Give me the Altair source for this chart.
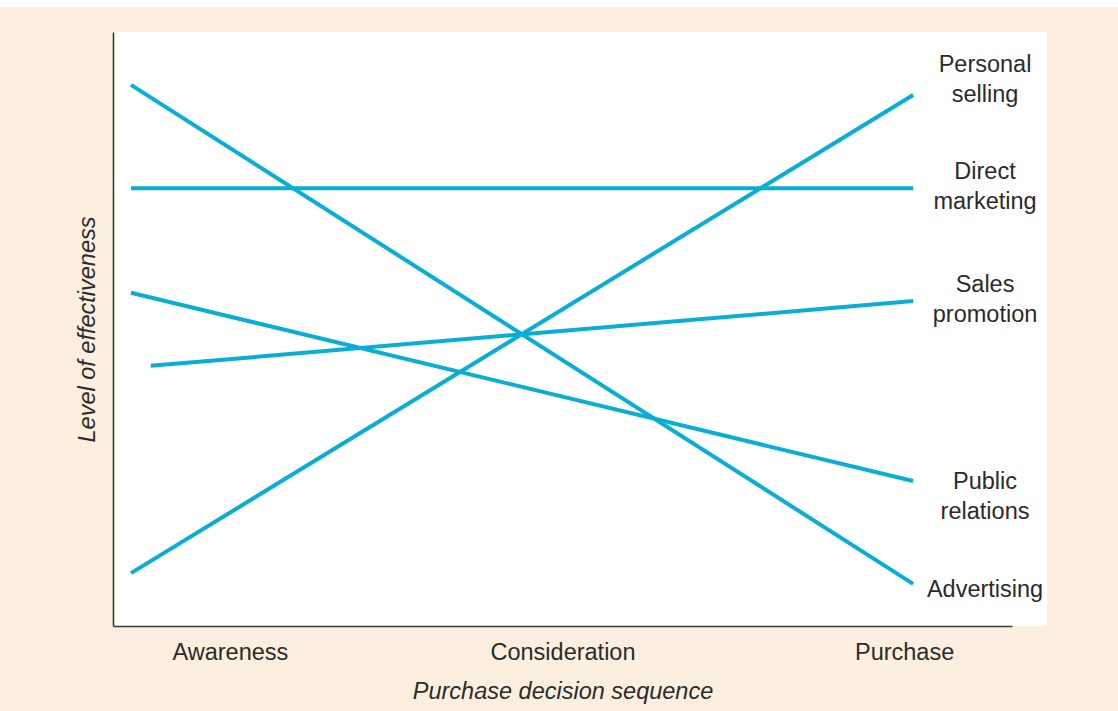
import altair as alt
import pandas as pd

# Stages of the purchase decision, placed along a 0-100 sequence axis
stages = ["Awareness", "Consideration", "Purchase"]
stage_pos = [13, 50, 88]

# Promotion tools: where each line starts/ends on the sequence and its effectiveness level there
tools = ["Advertising", "Direct marketing", "Personal selling", "Public relations", "Sales promotion"]
tool_labels = ["Advertising", "Direct\nmarketing", "Personal\nselling", "Public\nrelations", "Sales\npromotion"]
start_pos = [2, 2, 2, 2, 4.2]
end_pos = [89, 89, 89, 89, 89]
start_level = [91.1, 73.7, 8.9, 56.1, 43.8]
end_level = [7.1, 73.7, 89.4, 24.4, 54.7]

# Label placement next to the line ends
label_pos = 97
label_nudge = {"Advertising": -1.0, "Direct marketing": 2.7, "Personal selling": 5.1,
               "Public relations": -0.1, "Sales promotion": 2.7}

LINE = "#08aed4"
INK = "#2b2b2b"
FONT = "Liberation Sans"

rows = []
for t, sp, ep, sl, el in zip(tools, start_pos, end_pos, start_level, end_level):
    rows.append({"tool": t, "pos": sp, "level": sl, "step": 0})
    rows.append({"tool": t, "pos": ep, "level": el, "step": 1})
lines_df = pd.DataFrame(rows)

labels_df = pd.DataFrame({
    "tool": tools,
    "text": tool_labels,
    "pos": [label_pos] * len(tools),
    "level": [el + label_nudge[t] for t, el in zip(tools, end_level)],
})

label_expr = " : ".join(
    f"datum.value == {p} ? '{s}'" for p, s in zip(stage_pos[:-1], stages[:-1])
) + f" : '{stages[-1]}'"

x_scale = alt.Scale(domain=[0, 100], range=[0, 899])
y_scale = alt.Scale(domain=[0, 100])

x_enc = alt.X("pos:Q", scale=x_scale, axis=alt.Axis(
    values=stage_pos, labelExpr=label_expr, title="Purchase decision sequence",
    domain=True, domainColor="#3a3a3a", domainWidth=1.6, ticks=False, grid=False,
    labelFont=FONT, labelFontSize=23.5, labelColor=INK, labelPadding=14,
    labelFlush=False, labelOverlap=False,
    titleFont=FONT, titleFontSize=23.5, titleFontStyle="italic", titleFontWeight="normal",
    titleColor=INK, titlePadding=16))
y_enc = alt.Y("level:Q", scale=y_scale, axis=alt.Axis(
    title="Level of effectiveness", labels=False, ticks=False, grid=False,
    domain=True, domainColor="#3a3a3a", domainWidth=1.6,
    titleFont=FONT, titleFontSize=23.5, titleFontStyle="italic", titleFontWeight="normal",
    titleColor=INK, titlePadding=14))

lines = alt.Chart(lines_df).mark_line(color=LINE, strokeWidth=4, strokeCap="butt").encode(
    x=x_enc, y=y_enc, detail="tool:N", order="step:Q")

labels = alt.Chart(labels_df).mark_text(
    font=FONT, fontSize=23.5, color=INK, align="center", baseline="middle",
    lineBreak="\n", lineHeight=30, clip=False
).encode(x=alt.X("pos:Q", scale=x_scale), y=alt.Y("level:Q", scale=y_scale), text="text:N")

# thin white strip along the very top edge of the page
top_strip = alt.Chart(pd.DataFrame({"a": [0]})).mark_rect(color="white", clip=False).encode(
    x=alt.value(-113), x2=alt.value(1005), y=alt.value(-32), y2=alt.value(-25))

chart = alt.layer(top_strip, lines, labels).properties(
    width=934, height=594,
    background="#fcefdf",
    padding={"left": 113, "top": 32, "right": 71, "bottom": 85},
    autosize=alt.AutoSizeParams(type="none"),
).configure_view(fill="white", stroke=None)

chart.save("out.html", embed_options={"renderer": "svg", "actions": False})
